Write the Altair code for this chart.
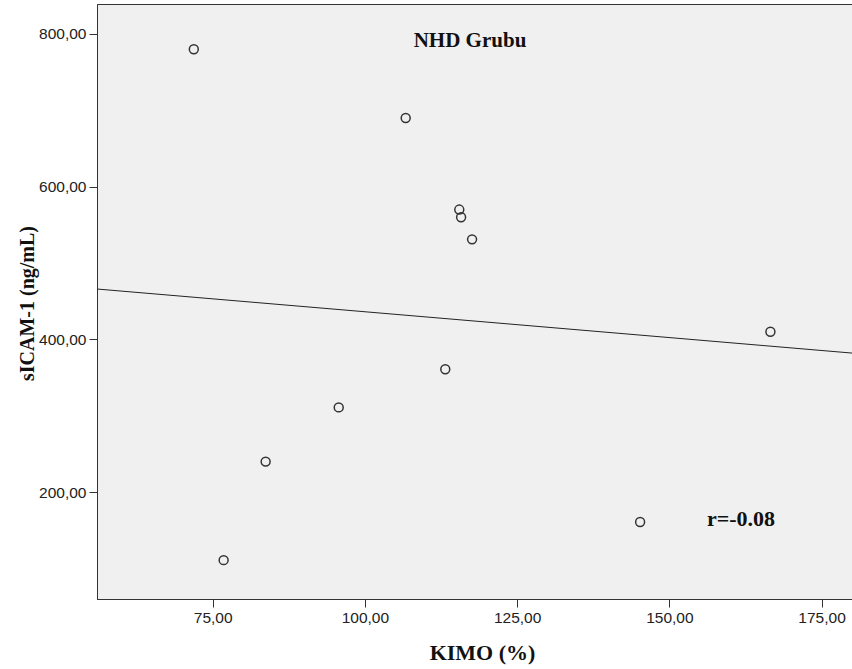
import altair as alt
import pandas as pd

kimo = [71.9, 106.7, 115.5, 115.8, 117.6, 166.6, 113.2, 95.7, 83.7, 145.2, 76.8]
sicam = [780, 690, 570, 560, 531, 410, 361, 311, 240, 161, 111]
x_ticks = [75, 100, 125, 150, 175]
y_ticks = [200, 400, 600, 800]
x_domain = [56.0, 180.0]
y_domain = [60.1, 839.2]

df = pd.DataFrame({"kimo": kimo, "sicam": sicam})

label_expr = "replace(format(datum.value, '.2f'), '.', ',')"

xenc = alt.X("kimo:Q", scale=alt.Scale(domain=x_domain, nice=False, zero=False),
             axis=alt.Axis(values=x_ticks, labelExpr=label_expr, title="KIMO (%)",
                           grid=False, domainColor="#333333", tickColor="#333333",
                           tickSize=8, labelFont="Liberation Sans", labelFontSize=15.5,
                           labelColor="#222222", titleFont="Liberation Serif",
                           titleFontSize=22, titleFontWeight="bold",
                           titleX=385, titleY=53, titleBaseline="middle",
                           labelPadding=3, titleColor="#111111"))
yenc = alt.Y("sicam:Q", scale=alt.Scale(domain=y_domain, nice=False, zero=False),
             axis=alt.Axis(values=y_ticks, labelExpr=label_expr, title="sICAM-1 (ng/mL)",
                           grid=False, domainColor="#333333", tickColor="#333333",
                           tickSize=8, labelFont="Liberation Sans", labelFontSize=15.5,
                           labelColor="#222222", titleFont="Liberation Serif",
                           titleFontSize=20, titleFontWeight="bold",
                           titleX=-70, titleY=299, titleBaseline="middle",
                           labelPadding=3, titleColor="#111111"))

base = alt.Chart(df)

points = base.mark_point(shape="circle", filled=False, size=80, strokeWidth=1.5,
                         color="#333333", opacity=1).encode(x=xenc, y=yenc)

line = base.transform_regression("kimo", "sicam", extent=x_domain).mark_line(
    color="#222222", strokeWidth=1).encode(x=xenc, y=yenc)

title_txt = alt.Chart(pd.DataFrame({"t": ["NHD Grubu"]})).mark_text(
    font="Liberation Serif", fontSize=21, fontWeight="bold", color="#111111",
    baseline="middle"
).encode(text="t:N", x=alt.value(373), y=alt.value(37))

r_txt = alt.Chart(pd.DataFrame({"t": ["r=-0.08"]})).mark_text(
    font="Liberation Serif", fontSize=22, fontWeight="bold", color="#111111",
    baseline="middle"
).encode(text="t:N", x=alt.value(644), y=alt.value(515))

chart = alt.layer(line, points, title_txt, r_txt).properties(
    width=755, height=595,
    padding={"left": 97, "top": 4, "right": 0, "bottom": 70},
    autosize=alt.AutoSizeParams(type="none"),
    background="white",
).configure_view(fill="#f0f0f0", stroke="#333333", strokeWidth=1)

chart.save("out.html", embed_options={"renderer": "svg", "actions": False})
